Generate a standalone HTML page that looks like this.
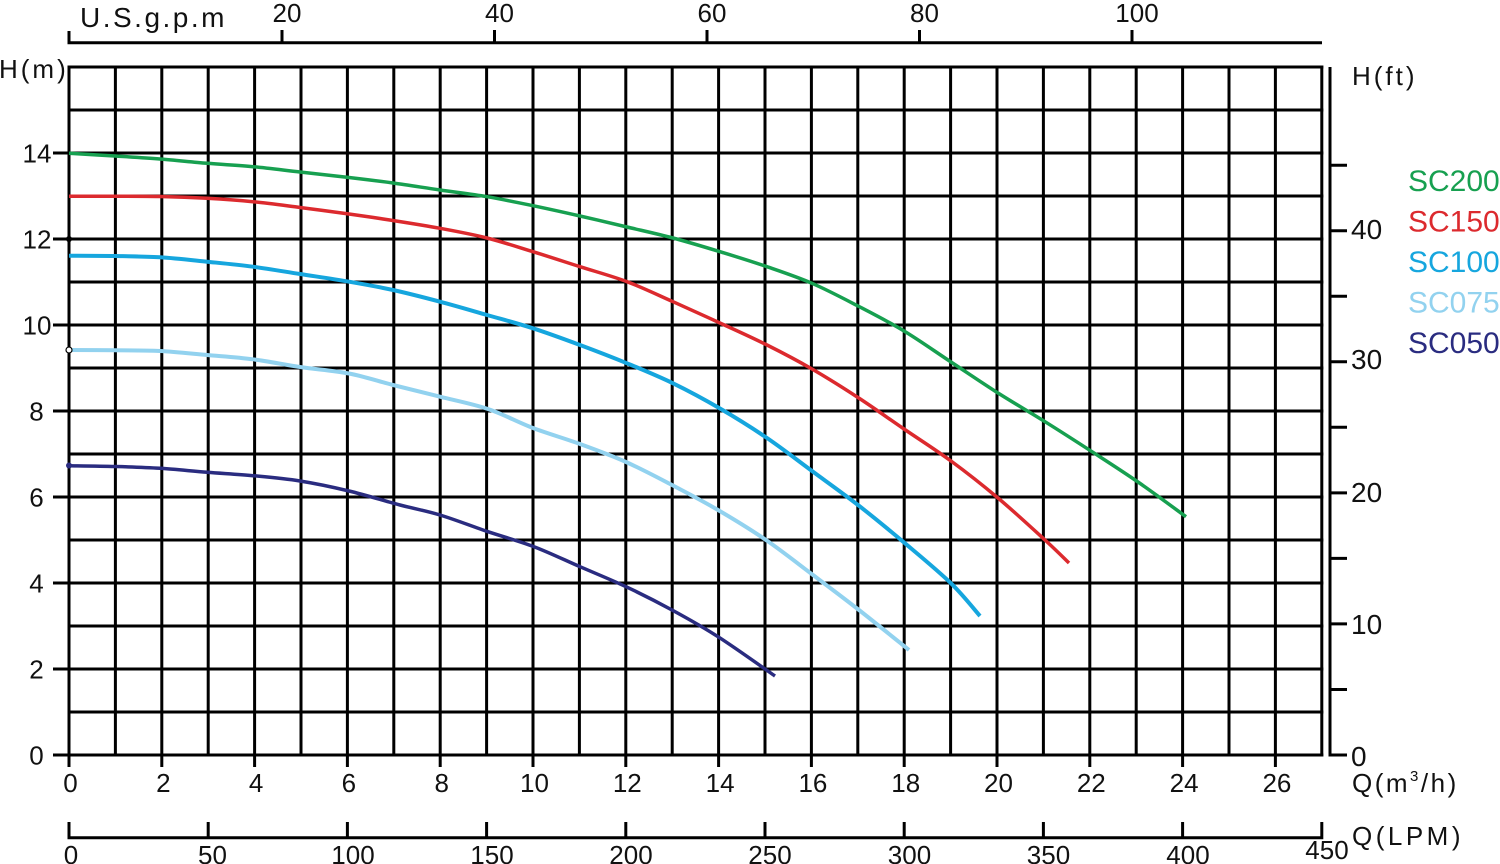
<!DOCTYPE html>
<html><head><meta charset="utf-8"><style>
html,body{margin:0;padding:0;background:#fff;}
svg{display:block;}
text{font-family:"Liberation Sans",Arial,sans-serif;fill:#111;}
</style></head><body>
<svg id="chart" width="1500" height="864" viewBox="0 0 1500 864" xmlns="http://www.w3.org/2000/svg">
<rect width="1500" height="864" fill="#fff"/>
<g stroke="#000" stroke-width="3" fill="none">
<path d="M69 67V767 M115.4 67V755 M161.8 67V767 M208.2 67V755 M254.6 67V767 M301 67V755 M347.4 67V767 M393.8 67V755 M440.2 67V767 M486.6 67V755 M533 67V767 M579.4 67V755 M625.8 67V767 M672.2 67V755 M718.6 67V767 M765 67V755 M811.4 67V767 M857.8 67V755 M904.2 67V767 M950.6 67V755 M997 67V767 M1043.4 67V755 M1089.8 67V767 M1136.2 67V755 M1182.6 67V767 M1229 67V755 M1275.4 67V767 M1321.8 65.5V756.5"/>
<path d="M53 755H1323.3 M67.5 712H1323.3 M53 669H1323.3 M67.5 626H1323.3 M53 583H1323.3 M67.5 540H1323.3 M53 497H1323.3 M67.5 454H1323.3 M53 411H1323.3 M67.5 368H1323.3 M53 325H1323.3 M67.5 282H1323.3 M53 239H1323.3 M67.5 196H1323.3 M53 153H1323.3 M67.5 110H1323.3 M67.5 67H1323.3"/>
<path d="M1330 67V756.5 M1328.5 755H1347 M1330 689.5H1347 M1330 623.9H1347 M1330 558.4H1347 M1330 492.9H1347 M1330 427.3H1347 M1330 361.8H1347 M1330 296.3H1347 M1330 230.7H1347 M1330 165.2H1347"/>
<path d="M69 31V44.2 M67.5 42.7H1322 M282 30V43 M494.5 30V43 M707 30V43 M919.5 30V43 M1132 30V43"/>
<path d="M69 822V839.2 M67.5 837.7H1323.3 M208.2 822V838 M347.4 822V838 M486.6 822V838 M625.8 822V838 M765 822V838 M904.2 822V838 M1043.4 822V838 M1182.6 822V838 M1321.8 822V839.2"/>
</g>
<g id="curves" fill="none" stroke-width="3.5" stroke-linejoin="round" stroke-linecap="butt">
<polyline class="c" stroke="#17a050" points="69,153.3 115,156 160,159 207,163.3 253,166.7 300,172 349,177.5 393,183 440,190 487,196.7 533,205.7 580,216 627,227 673,238 720,251.7 767,266.7 812,283.3 858,306 904,331 951,362 998,393 1045,421.7 1092,451.7 1138,482 1186,516.7"/>
<polyline class="c" stroke="#dc2a2e" points="69,196.3 115,196.2 160,196.5 207,198.3 253,201.7 300,207.5 349,214 393,220.5 440,228.3 487,238 533,251.7 580,266.7 627,281.7 673,301.7 720,323 767,345 812,369 858,397.5 904,429 951,461 998,498 1045,540 1069,563"/>
<polyline class="c" stroke="#16a6de" stroke-width="4" points="69,255.7 115,256 160,257.3 207,261.7 253,266.7 300,274 349,281.7 393,290 440,301.7 487,315 533,328.3 580,345 627,363.3 673,383.3 720,408.5 767,438 812,471 858,505 905,543.3 951,583.3 980,616"/>
<polyline class="c" stroke="#92d2ef" stroke-width="4" points="69,350 115,350.3 160,351 207,355 253,359.3 300,367 349,373.5 393,385 440,396.7 488,409 533,428 580,444 626,462 672,485 718,510 766,540 813,575 859,610 909,650"/>
<polyline class="c" stroke="#2a2c80" points="69,465.7 115,466.5 160,468.3 207,472.3 253,475.7 300,481 349,491 400,505 440,515 488,531.7 534,546.7 580,566.7 626,586.7 672,610 718,636.7 775,676"/>
</g>
<circle cx="69" cy="239" r="3" fill="#000"/>
<circle cx="69" cy="465.5" r="3" fill="#2a2c80"/>
<circle cx="69" cy="350" r="3" fill="#fff" stroke="#000" stroke-width="1.2"/>
<text x="80" y="27" font-size="28" letter-spacing="2.5">U.S.g.p.m</text>
<g font-size="26" text-anchor="middle">
<text x="287" y="22">20</text><text x="499.5" y="22">40</text><text x="712" y="22">60</text><text x="924.5" y="22">80</text><text x="1137" y="22">100</text>
</g>
<text x="-1" y="78" font-size="26" letter-spacing="3">H(m)</text>
<g font-size="26" text-anchor="middle">
<text x="36.5" y="764.5">0</text><text x="36.5" y="678.5">2</text><text x="36.5" y="592.5">4</text><text x="36.5" y="506.5">6</text><text x="36.5" y="420.5">8</text><text x="37" y="334.5">10</text><text x="37" y="248.5">12</text><text x="37" y="162.5">14</text>
</g>
<g font-size="26" text-anchor="middle">
<text x="70.5" y="792">0</text><text x="163.3" y="792">2</text><text x="256.1" y="792">4</text><text x="348.9" y="792">6</text><text x="441.7" y="792">8</text><text x="534.5" y="792">10</text><text x="627.3" y="792">12</text><text x="720.1" y="792">14</text><text x="812.9" y="792">16</text><text x="905.7" y="792">18</text><text x="998.5" y="792">20</text><text x="1091.3" y="792">22</text><text x="1184.1" y="792">24</text><text x="1276.9" y="792">26</text>
</g>
<g font-size="26" text-anchor="middle">
<text x="71" y="864">0</text><text x="212.5" y="864">50</text><text x="353" y="864">100</text><text x="492" y="864">150</text><text x="631" y="864">200</text><text x="770" y="864">250</text><text x="909.5" y="864">300</text><text x="1048.5" y="864">350</text><text x="1188" y="864">400</text><text x="1327" y="859">450</text>
</g>
<text x="1352" y="85" font-size="26" letter-spacing="3">H(ft)</text>
<g font-size="28">
<text x="1351" y="239">40</text><text x="1351" y="369">30</text><text x="1351" y="502">20</text><text x="1351" y="634">10</text><text x="1351" y="766">0</text>
</g>
<text x="1352" y="792" font-size="26" letter-spacing="2.5">Q(m<tspan font-size="15" dy="-11">3</tspan><tspan dy="11">/h)</tspan></text>
<text x="1352" y="845" font-size="26" letter-spacing="3.5">Q(LPM)</text>
<g font-size="30">
<text x="1408" y="191" style="fill:#17a050">SC200</text>
<text x="1408" y="231.5" style="fill:#dc2a2e">SC150</text>
<text x="1408" y="272" style="fill:#16a6de">SC100</text>
<text x="1408" y="312.5" style="fill:#92d2ef">SC075</text>
<text x="1408" y="353" style="fill:#2a2c80">SC050</text>
</g>
</svg>
<script>
(function(){
  try{
    var ns="http://www.w3.org/2000/svg";
    var pls=document.querySelectorAll("#curves polyline.c");
    for(var k=0;k<pls.length;k++){
      var pl=pls[k];
      var raw=pl.getAttribute("points").trim().split(/\s+/);
      var P=raw.map(function(s){var a=s.split(",");return [parseFloat(a[0]),parseFloat(a[1])];});
      var n=P.length;
      var d="M"+P[0][0]+" "+P[0][1];
      for(var i=0;i<n-1;i++){
        var p0=P[i>0?i-1:i],p1=P[i],p2=P[i+1],p3=P[i+2<n?i+2:i+1];
        var c1x=p1[0]+(p2[0]-p0[0])/6,c1y=p1[1]+(p2[1]-p0[1])/6;
        var c2x=p2[0]-(p3[0]-p1[0])/6,c2y=p2[1]-(p3[1]-p1[1])/6;
        d+=" C"+c1x.toFixed(2)+" "+c1y.toFixed(2)+" "+c2x.toFixed(2)+" "+c2y.toFixed(2)+" "+p2[0]+" "+p2[1];
      }
      var path=document.createElementNS(ns,"path");
      path.setAttribute("d",d);
      path.setAttribute("stroke",pl.getAttribute("stroke"));
      var sw=pl.getAttribute("stroke-width");
      if(sw)path.setAttribute("stroke-width",sw);
      pl.parentNode.replaceChild(path,pl);
    }
  }catch(e){}
})();
</script>
</body></html>
